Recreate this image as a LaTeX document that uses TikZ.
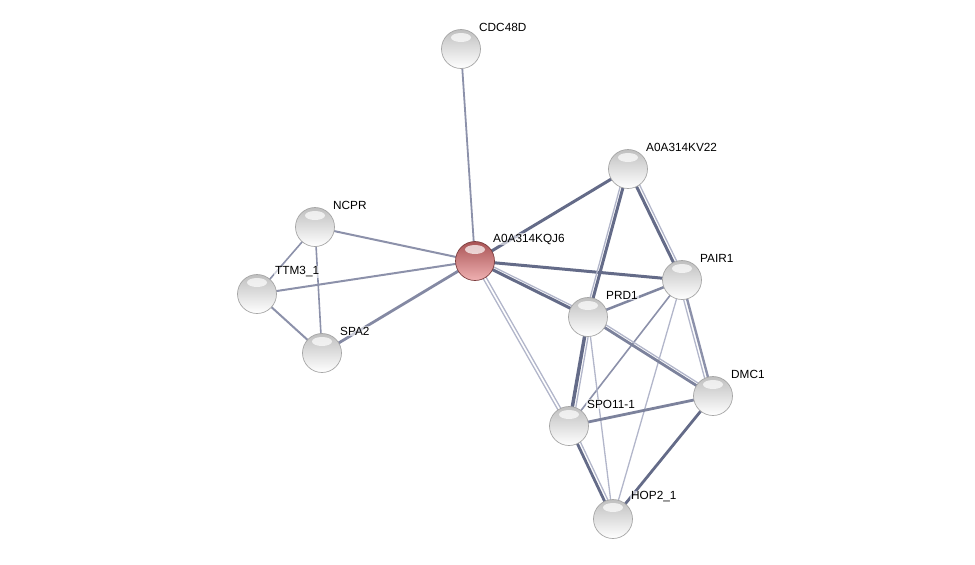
\documentclass[tikz,border=0pt]{standalone}
\usepackage{fontspec}
\setmainfont{Liberation Sans}
\usetikzlibrary{positioning,calc,shadings}
\pgfdeclarelayer{background}
\pgfsetlayers{background,main}
\definecolor{strdark}{RGB}{100,107,136}
\definecolor{strmid}{RGB}{140,145,170}
\definecolor{strlight}{RGB}{178,182,202}
\definecolor{qred}{RGB}{226,112,114}

\begin{document}
\begin{tikzpicture}[x=1pt,y=-1pt]
\useasboundingbox (0,0) rectangle (975,565);
% Draw interaction network
   \begin{scope}[
                   prot/.style={circle,minimum size=39pt,inner sep=0pt,draw=gray!70,line width=0.7pt,
                                top color=gray!50,middle color=gray!22,bottom color=white,
                                path picture={\fill[white,fill opacity=0.7] ([yshift=-8pt]path picture bounding box.north) ellipse (10pt and 4.5pt);}},
                   query/.style={prot,draw=qred!55!black,top color=qred!75!black,middle color=qred,bottom color=qred!55!white},
                   lbl/.style={anchor=west,font=\fontsize{11.8}{14}\selectfont,fill=white,fill opacity=0.6,text opacity=1,inner sep=1pt},
                   strong/.style={draw=strdark,line width=3pt},
                   medium/.style={draw=strmid,line width=2.2pt},
                   weak/.style={draw=strlight,line width=1.3pt} ]
     \node [prot]  (cdc)  at (461,49)  {};
     \node [prot]  (kv22) at (628,169) {};
     \node [prot]  (ncpr) at (315,227) {};
     \node [query] (kqj)  at (475,261) {};
     \node [prot]  (ttm)  at (257,294) {};
     \node [prot]  (pair) at (682,280) {};
     \node [prot]  (prd)  at (588,317) {};
     \node [prot]  (spa)  at (322,353) {};
     \node [prot]  (dmc)  at (713,396) {};
     \node [prot]  (spo)  at (569,426) {};
     \node [prot]  (hop)  at (613,519) {};
     % labels
     \node [lbl] (cdc-l)  at ([shift={(17,-22)}]cdc.center)  {CDC48D};
     \node [lbl] (kv22-l) at ([shift={(17,-22)}]kv22.center) {A0A314KV22};
     \node [lbl] (ncpr-l) at ([shift={(17,-22)}]ncpr.center) {NCPR};
     \node [lbl] (kqj-l)  at ([shift={(17,-22)}]kqj.center)  {A0A314KQJ6};
     \node [lbl] (ttm-l)  at ([shift={(17,-22)}]ttm.center)  {TTM3\_1};
     \node [lbl] (pair-l) at ([shift={(17,-22)}]pair.center) {PAIR1};
     \node [lbl] (prd-l)  at ([shift={(17,-22)}]prd.center)  {PRD1};
     \node [lbl] (spa-l)  at ([shift={(17,-22)}]spa.center)  {SPA2};
     \node [lbl] (dmc-l)  at ([shift={(17,-22)}]dmc.center)  {DMC1};
     \node [lbl] (spo-l)  at ([shift={(17,-22)}]spo.center)  {SPO11-1};
     \node [lbl] (hop-l)  at ([shift={(17,-22)}]hop.center)  {HOP2\_1};
     \begin{pgfonlayer}{background}
     \draw (cdc.center) edge [medium,line width=1.8pt] (kqj.center);
     \draw (ncpr.center) edge [medium,line width=2pt] (kqj.center);
     \draw (ttm.center) edge [medium,line width=2pt] (kqj.center);
     \draw (spa.center) edge [strong,draw=strmid!80!strdark,line width=2.8pt] (kqj.center);
     \draw (ncpr.center) edge [weak,draw=strmid,line width=1.6pt] (ttm.center);
     \draw (ncpr.center) edge [weak,draw=strmid,line width=1.6pt] (spa.center);
     \draw (ttm.center) edge [medium,line width=2pt] (spa.center);
     \draw (kqj.center) edge [strong] (kv22.center);
     \draw (kqj.center) edge [strong] (pair.center);
     \draw (kqj.center) edge [strong] (prd.center);
     \draw [weak] ($(kqj)!3pt!90:(prd)$) -- ($(prd)!3pt!-90:(kqj)$);
     \draw [weak] ($(kqj)!1.6pt!90:(spo)$) -- ($(spo)!1.6pt!-90:(kqj)$);
     \draw [weak] ($(kqj)!1.6pt!-90:(spo)$) -- ($(spo)!1.6pt!90:(kqj)$);
     \draw (kv22.center) edge [strong] (prd.center);
     \draw [weak] ($(kv22)!3pt!-90:(prd)$) -- ($(prd)!3pt!90:(kv22)$);
     \draw (kv22.center) edge [strong] (pair.center);
     \draw [weak] ($(kv22)!3.5pt!90:(pair)$) -- ($(pair)!3.5pt!-90:(kv22)$);
     \draw (pair.center) edge [medium,draw=strmid!70!strdark,line width=2.5pt] (prd.center);
     \draw (pair.center) edge [medium,line width=2.4pt] (dmc.center);
     \draw [weak] ($(pair)!3.5pt!-90:(dmc)$) -- ($(dmc)!3.5pt!90:(pair)$);
     \draw (pair.center) edge [weak,draw=strmid,line width=1.6pt] (spo.center);
     \draw (pair.center) edge [weak] (hop.center);
     \draw (prd.center) edge [strong,draw=strmid!60!strdark,line width=2.8pt] (dmc.center);
     \draw [weak] ($(prd)!3pt!90:(dmc)$) -- ($(dmc)!3pt!-90:(prd)$);
     \draw (prd.center) edge [strong,line width=3.5pt] (spo.center);
     \draw [weak] ($(prd)!3.5pt!90:(spo)$) -- ($(spo)!3.5pt!-90:(prd)$);
     \draw (prd.center) edge [weak] (hop.center);
     \draw (spo.center) edge [strong,draw=strmid!60!strdark,line width=2.8pt] (dmc.center);
     \draw (spo.center) edge [strong,line width=2.8pt] (hop.center);
     \draw [weak] ($(spo)!3.5pt!90:(hop)$) -- ($(hop)!3.5pt!-90:(spo)$);
     \draw (dmc.center) edge [strong,line width=2.8pt] (hop.center);
     \end{pgfonlayer}
   \end{scope}
\end{tikzpicture}
\end{document}
